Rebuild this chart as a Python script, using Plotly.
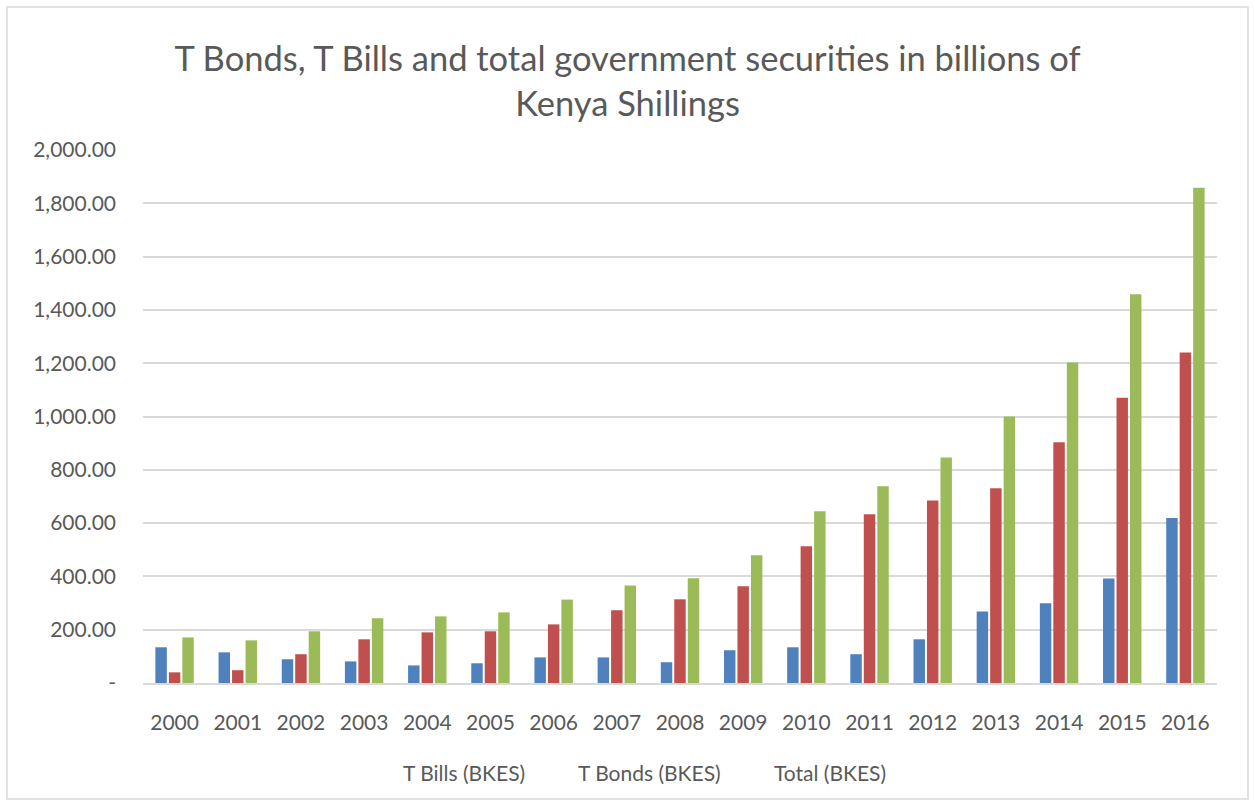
import plotly.graph_objects as go

years = [str(y) for y in range(2000, 2017)]
t_bills = [134, 115, 89, 81, 66, 74, 96, 96, 78, 123, 134, 108, 164, 268, 299, 392, 619]
t_bonds = [40, 48, 108, 164, 190, 194, 220, 273, 314, 363, 513, 633, 685, 731, 903, 1070, 1240]
total = [171, 160, 194, 243, 250, 265, 313, 366, 393, 479, 644, 738, 846, 1000, 1203, 1459, 1858]

series_names = ["T Bills (BKES)", "T Bonds (BKES)", "Total (BKES)"]
colors = ["#4F81BD", "#C0504D", "#9BBB59"]
tick_vals = list(range(0, 2001, 200))
tick_text = ["-"] + [f"{v:,.2f}" for v in tick_vals[1:]]

FONT = "Lato"
GRAY = "#595959"
TS = 21

fig = go.Figure()
for name, vals, col in zip(series_names, [t_bills, t_bonds, total], colors):
    fig.add_trace(go.Bar(x=years, y=vals, name=name, marker=dict(color=col, line=dict(width=0))))

L, R, T, B = 143, 38, 150, 117
W, H = 1255, 800
pw, ph = W - L - R, H - T - B

def px_x(x):
    return (x - L) / pw

def px_y(y):
    return (H - B - y) / ph

fig.update_layout(
    width=W, height=H,
    margin=dict(l=L, r=R, t=T, b=B),
    paper_bgcolor="white", plot_bgcolor="white",
    barmode="group", bargap=0.36, bargroupgap=0.15,
    showlegend=False,
    font=dict(family=FONT, color=GRAY),
    title=dict(
        text="T Bonds, T Bills and total government securities in billions of<br>Kenya Shillings",
        x=0.5, xanchor="center", y=1 - 71 / H, yanchor="middle",
        font=dict(family=FONT, size=34.5, color=GRAY),
    ),
    xaxis=dict(
        type="category", showgrid=False, showline=True, linecolor="#d9d9d9", linewidth=2,
        ticks="", tickfont=dict(family=FONT, size=TS, color=GRAY), ticklabelstandoff=20,
    ),
    yaxis=dict(
        range=[0, 2000], tickvals=tick_vals, ticktext=tick_text,
        showgrid=True, gridcolor="#d9d9d9", gridwidth=1.5, zeroline=False,
        showline=False, ticks="", tickfont=dict(family=FONT, size=TS, color=GRAY),
        ticklabelstandoff=26,
    ),
    shapes=[dict(
        type="rect", xref="paper", yref="paper",
        x0=px_x(7), x1=px_x(1248), y0=px_y(799), y1=px_y(7),
        line=dict(color="#d9d9d9", width=1.5), fillcolor="rgba(0,0,0,0)", layer="below",
    )],
    annotations=[
        dict(text=n, x=px_x(cx), y=px_y(772), xref="paper", yref="paper",
             showarrow=False, xanchor="center", yanchor="middle",
             font=dict(family=FONT, size=TS, color=GRAY))
        for n, cx in zip(series_names, [464, 649, 830])
    ],
)

fig.write_html("out.html")
